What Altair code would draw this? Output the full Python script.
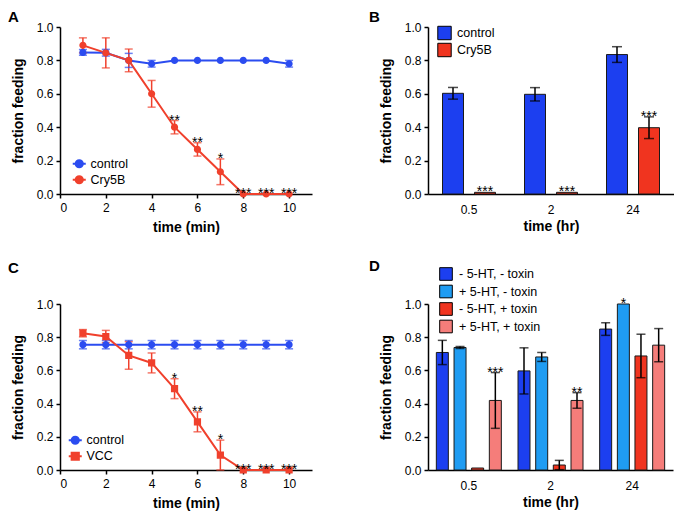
import altair as alt
import pandas as pd

FONT = "Liberation Sans"

# ---------------- data ----------------
time_min = [1, 2, 3, 4, 5, 6, 7, 8, 9, 10]

a_series = ["control", "Cry5B"]
a_control = [0.848, 0.846, 0.800, 0.780, 0.800, 0.800, 0.800, 0.800, 0.800, 0.780]
a_control_err = [0.017, 0.020, 0.042, 0.020, 0.0, 0.0, 0.0, 0.0, 0.0, 0.020]
a_cry5b = [0.890, 0.845, 0.800, 0.600, 0.400, 0.267, 0.133, 0.0, 0.0, 0.0]
a_cry5b_err = [0.045, 0.090, 0.068, 0.080, 0.040, 0.040, 0.077, 0.0, 0.0, 0.0]
a_stars = ["", "", "", "", "**", "**", "*", "***", "***", "***"]

c_series = ["control", "VCC"]
c_control = [0.755, 0.755, 0.755, 0.755, 0.755, 0.755, 0.755, 0.755, 0.755, 0.755]
c_control_err = [0.025, 0.025, 0.025, 0.025, 0.025, 0.025, 0.025, 0.025, 0.025, 0.025]
c_vcc = [0.824, 0.804, 0.690, 0.645, 0.490, 0.290, 0.090, 0.0, 0.0, 0.0]
c_vcc_err = [0.022, 0.037, 0.083, 0.060, 0.060, 0.060, 0.090, 0.0, 0.0, 0.0]
c_stars = ["", "", "", "", "*", "**", "*", "***", "***", "***"]

hours = ["0.5", "2", "24"]

b_series = ["control", "Cry5B"]
b_control = [0.603, 0.597, 0.835]
b_control_err = [0.035, 0.040, 0.047]
b_cry5b = [0.010, 0.010, 0.397]
b_cry5b_err = [0.0, 0.0, 0.065]
b_stars = ["***", "***", "***"]

d_series = ["- 5-HT, - toxin", "+ 5-HT, - toxin", "- 5-HT, + toxin", "+ 5-HT, + toxin"]
d_mm = [0.708, 0.597, 0.849]
d_mm_err = [0.073, 0.139, 0.038]
d_pm = [0.738, 0.681, 1.000]
d_pm_err = [0.006, 0.027, 0.0]
d_mp = [0.012, 0.030, 0.687]
d_mp_err = [0.0, 0.028, 0.131]
d_pp = [0.419, 0.419, 0.752]
d_pp_err = [0.168, 0.047, 0.100]
d_pm_stars = ["", "", "*"]
d_pp_stars = ["***", "**", ""]

# ---------------- styles ----------------
LINE_BLUE = "#2b4cf0"
LINE_RED = "#f0402c"
BAR_BLUE = "#1c3ff0"
BAR_RED = "#f0341f"
D_COLORS = ["#1c3ff0", "#1f9cf2", "#f0341f", "#f57d7a"]

# symbol paths: a short line (only visible where stroked, i.e. in the legend) + marker
PATH_CIRCLE = "M-1.3,0L1.3,0M-0.72,0A0.72,0.72,0,1,1,0.72,0A0.72,0.72,0,1,1,-0.72,0Z"
PATH_SQUARE = "M-1.3,0L1.3,0M-0.72,-0.72L0.72,-0.72L0.72,0.72L-0.72,0.72Z"

Y_AXIS = alt.Axis(values=[0, 0.2, 0.4, 0.6, 0.8, 1.0], format=".1f",
                  title="fraction feeding", titlePadding=11, labelPadding=3)
Y_SCALE = alt.Scale(domain=[0, 1], nice=False)


def ycol(field):
    return alt.Y(f"{field}:Q", scale=Y_SCALE, axis=Y_AXIS)


def letter_layer(letter, lx, ly):
    return alt.Chart(pd.DataFrame({"panel": [letter]})).mark_text(
        fontSize=15, fontWeight="bold", align="left", baseline="alphabetic",
        font=FONT, color="black"
    ).encode(text="panel:N", x=alt.value(lx), y=alt.value(ly))


def top_spacer(y):
    # invisible rule that reserves the top margin of the figure
    return alt.Chart(pd.DataFrame({"panel": ["A"]})).mark_rule(
        strokeOpacity=0, strokeWidth=1
    ).encode(x=alt.value(0), x2=alt.value(1), y=alt.value(y), y2=alt.value(y))


def long_line_df(series, v1, e1, v2, e2, stars2):
    df = pd.DataFrame({
        "time": time_min + time_min,
        "series": [series[0]] * len(time_min) + [series[1]] * len(time_min),
        "value": v1 + v2,
        "err": e1 + e2,
        "stars": [""] * len(time_min) + stars2,
    })
    df["lo"] = df["value"] - df["err"]
    df["hi"] = df["value"] + df["err"]
    return df


def line_panel(letter, series, v1, e1, v2, e2, stars2, shapes, width, height,
               leg_x, leg_y, lx, ly, extra=None):
    df = long_line_df(series, v1, e1, v2, e2, stars2)
    base = alt.Chart(df)
    x = alt.X("time:Q", scale=alt.Scale(domain=[0, 11], nice=False),
              axis=alt.Axis(values=[0, 2, 4, 6, 8, 10], title="time (min)",
                            labelPadding=4, titlePadding=7.5))
    legend = alt.Legend(title=None, orient="none", legendX=leg_x, legendY=leg_y,
                        symbolSize=100, symbolStrokeWidth=2, labelFontSize=12.5,
                        labelOffset=5, rowPadding=0, padding=0)
    cscale = alt.Scale(domain=series, range=[LINE_BLUE, LINE_RED])
    color = alt.Color("series:N", scale=cscale, legend=legend)
    color_nl = alt.Color("series:N", scale=cscale, legend=None)
    shape = alt.Shape("series:N", scale=alt.Scale(domain=series, range=shapes), legend=legend)

    line = base.mark_line(strokeWidth=2).encode(x=x, y=ycol("value"), color=color)
    eb = base.transform_filter("datum.err > 0")
    err = eb.mark_rule(strokeWidth=1.5).encode(
        x=x, y=ycol("lo"), y2="hi:Q", color=color_nl)
    cap_lo = eb.mark_tick(orient="horizontal", size=8, thickness=1.5).encode(
        x=x, y=ycol("lo"), color=color_nl)
    cap_hi = eb.mark_tick(orient="horizontal", size=8, thickness=1.5).encode(
        x=x, y=ycol("hi"), color=color_nl)
    pts = base.mark_point(filled=True, opacity=1, size=100).encode(
        x=x, y=ycol("value"), color=color, shape=shape)
    stars = base.transform_filter("datum.stars != ''").mark_text(
        fontSize=14, baseline="alphabetic", dy=4, color="black", font=FONT).encode(
        x=x, y=ycol("hi"), text="stars:N")
    layers = [line, err, cap_lo, cap_hi, pts, stars, letter_layer(letter, lx, ly)]
    if extra is not None:
        layers.append(extra)
    return alt.layer(*layers).properties(width=width, height=height)


def bar_panel(letter, df, series, colors, width, height, legend, offsets, bar_w, cap,
              lx, ly):
    df = df.copy()
    df["lo"] = df["value"] - df["err"]
    df["hi"] = df["value"] + df["err"]
    base = alt.Chart(df)
    x = alt.X("time:N", sort=hours,
              scale=alt.Scale(type="band", paddingInner=0, paddingOuter=0),
              axis=alt.Axis(title="time (hr)", labelAngle=0, ticks=False,
                            labelPadding=10, titlePadding=4))
    color = alt.Color("series:N", sort=series,
                      scale=alt.Scale(domain=series, range=colors), legend=legend)
    layers = []
    for s, off in zip(series, offsets):
        sub = base.transform_filter(alt.datum.series == s)
        eb = sub.transform_filter("datum.err > 0")
        layers.append(sub.mark_bar(width=bar_w, xOffset=off, stroke="#1a1a1a",
                                   strokeWidth=1).encode(
            x=x, y=ycol("value"), color=color))
        layers.append(eb.mark_rule(color="black", strokeWidth=1.5, xOffset=off).encode(
            x=x, y=ycol("lo"), y2="hi:Q"))
        layers.append(eb.mark_tick(color="black", orient="horizontal", size=cap,
                                   thickness=1.5, xOffset=off).encode(x=x, y=ycol("lo")))
        layers.append(eb.mark_tick(color="black", orient="horizontal", size=cap,
                                   thickness=1.5, xOffset=off).encode(x=x, y=ycol("hi")))
        layers.append(sub.transform_filter("datum.stars != ''").mark_text(
            fontSize=14, baseline="alphabetic", dy=4, color="black", font=FONT,
            xOffset=off).encode(x=x, y=ycol("hi"), text="stars:N"))
    layers.append(letter_layer(letter, lx, ly))
    return alt.layer(*layers).properties(width=width, height=height)


# ---------------- panels ----------------
panel_a = line_panel("A", a_series, a_control, a_control_err, a_cry5b, a_cry5b_err,
                     a_stars, [PATH_CIRCLE, PATH_CIRCLE], 252, 167, 13, 130.5, -52, -5.3,
                     extra=top_spacer(-19))

panel_c = line_panel("C", c_series, c_control, c_control_err, c_vcc, c_vcc_err,
                     c_stars, [PATH_CIRCLE, PATH_SQUARE], 252, 166, 9, 130, -52, -30.6)

df_b = pd.DataFrame({
    "time": hours + hours,
    "series": [b_series[0]] * 3 + [b_series[1]] * 3,
    "value": b_control + b_cry5b,
    "err": b_control_err + b_cry5b_err,
    "stars": ["", "", ""] + b_stars,
})
legend_b = alt.Legend(title=None, orient="none", legendX=9, legendY=-1.5, symbolType="square",
                      symbolSize=180, symbolStrokeColor="black", symbolStrokeWidth=1,
                      labelFontSize=12.5, labelOffset=5, rowPadding=-2.5, padding=0)
panel_b = bar_panel("B", df_b, b_series, [BAR_BLUE, BAR_RED], 246, 167, legend_b,
                    [-16, 16], 21, 10, -59, -5.3)

df_d = pd.DataFrame({
    "time": hours * 4,
    "series": [d_series[0]] * 3 + [d_series[1]] * 3 + [d_series[2]] * 3 + [d_series[3]] * 3,
    "value": d_mm + d_pm + d_mp + d_pp,
    "err": d_mm_err + d_pm_err + d_mp_err + d_pp_err,
    "stars": ["", "", ""] + d_pm_stars + ["", "", ""] + d_pp_stars,
})
legend_d = alt.Legend(title=None, orient="none", legendX=11, legendY=-37, symbolType="square",
                      symbolSize=160, symbolStrokeColor="black", symbolStrokeWidth=1,
                      labelFontSize=12.5, labelOffset=6, rowPadding=-0.5, padding=0)
panel_d = bar_panel("D", df_d, d_series, D_COLORS, 245, 166, legend_d,
                    [-26.5, -8.8, 8.8, 26.5], 12, 9, -59, -32.6)

chart = alt.concat(panel_a, panel_b, panel_c, panel_d, columns=2,
                   spacing={"row": 110, "column": 116}, bounds="flush").properties(
    padding={"left": 0, "top": 0, "right": 0, "bottom": 0}
).resolve_scale(color="independent", shape="independent").configure_view(
    stroke=None
).configure_axis(
    domainColor="black", domainWidth=1.5, tickColor="black", tickWidth=1.5, tickSize=4,
    labelColor="black", labelFont=FONT, labelFontSize=12, titleFont=FONT,
    titleFontSize=14, titleFontWeight="bold", titleColor="black", grid=False
).configure_legend(labelFont=FONT, labelColor="black", labelFontSize=12.5)

chart.save("out.html", embed_options={"renderer": "svg", "actions": False})
